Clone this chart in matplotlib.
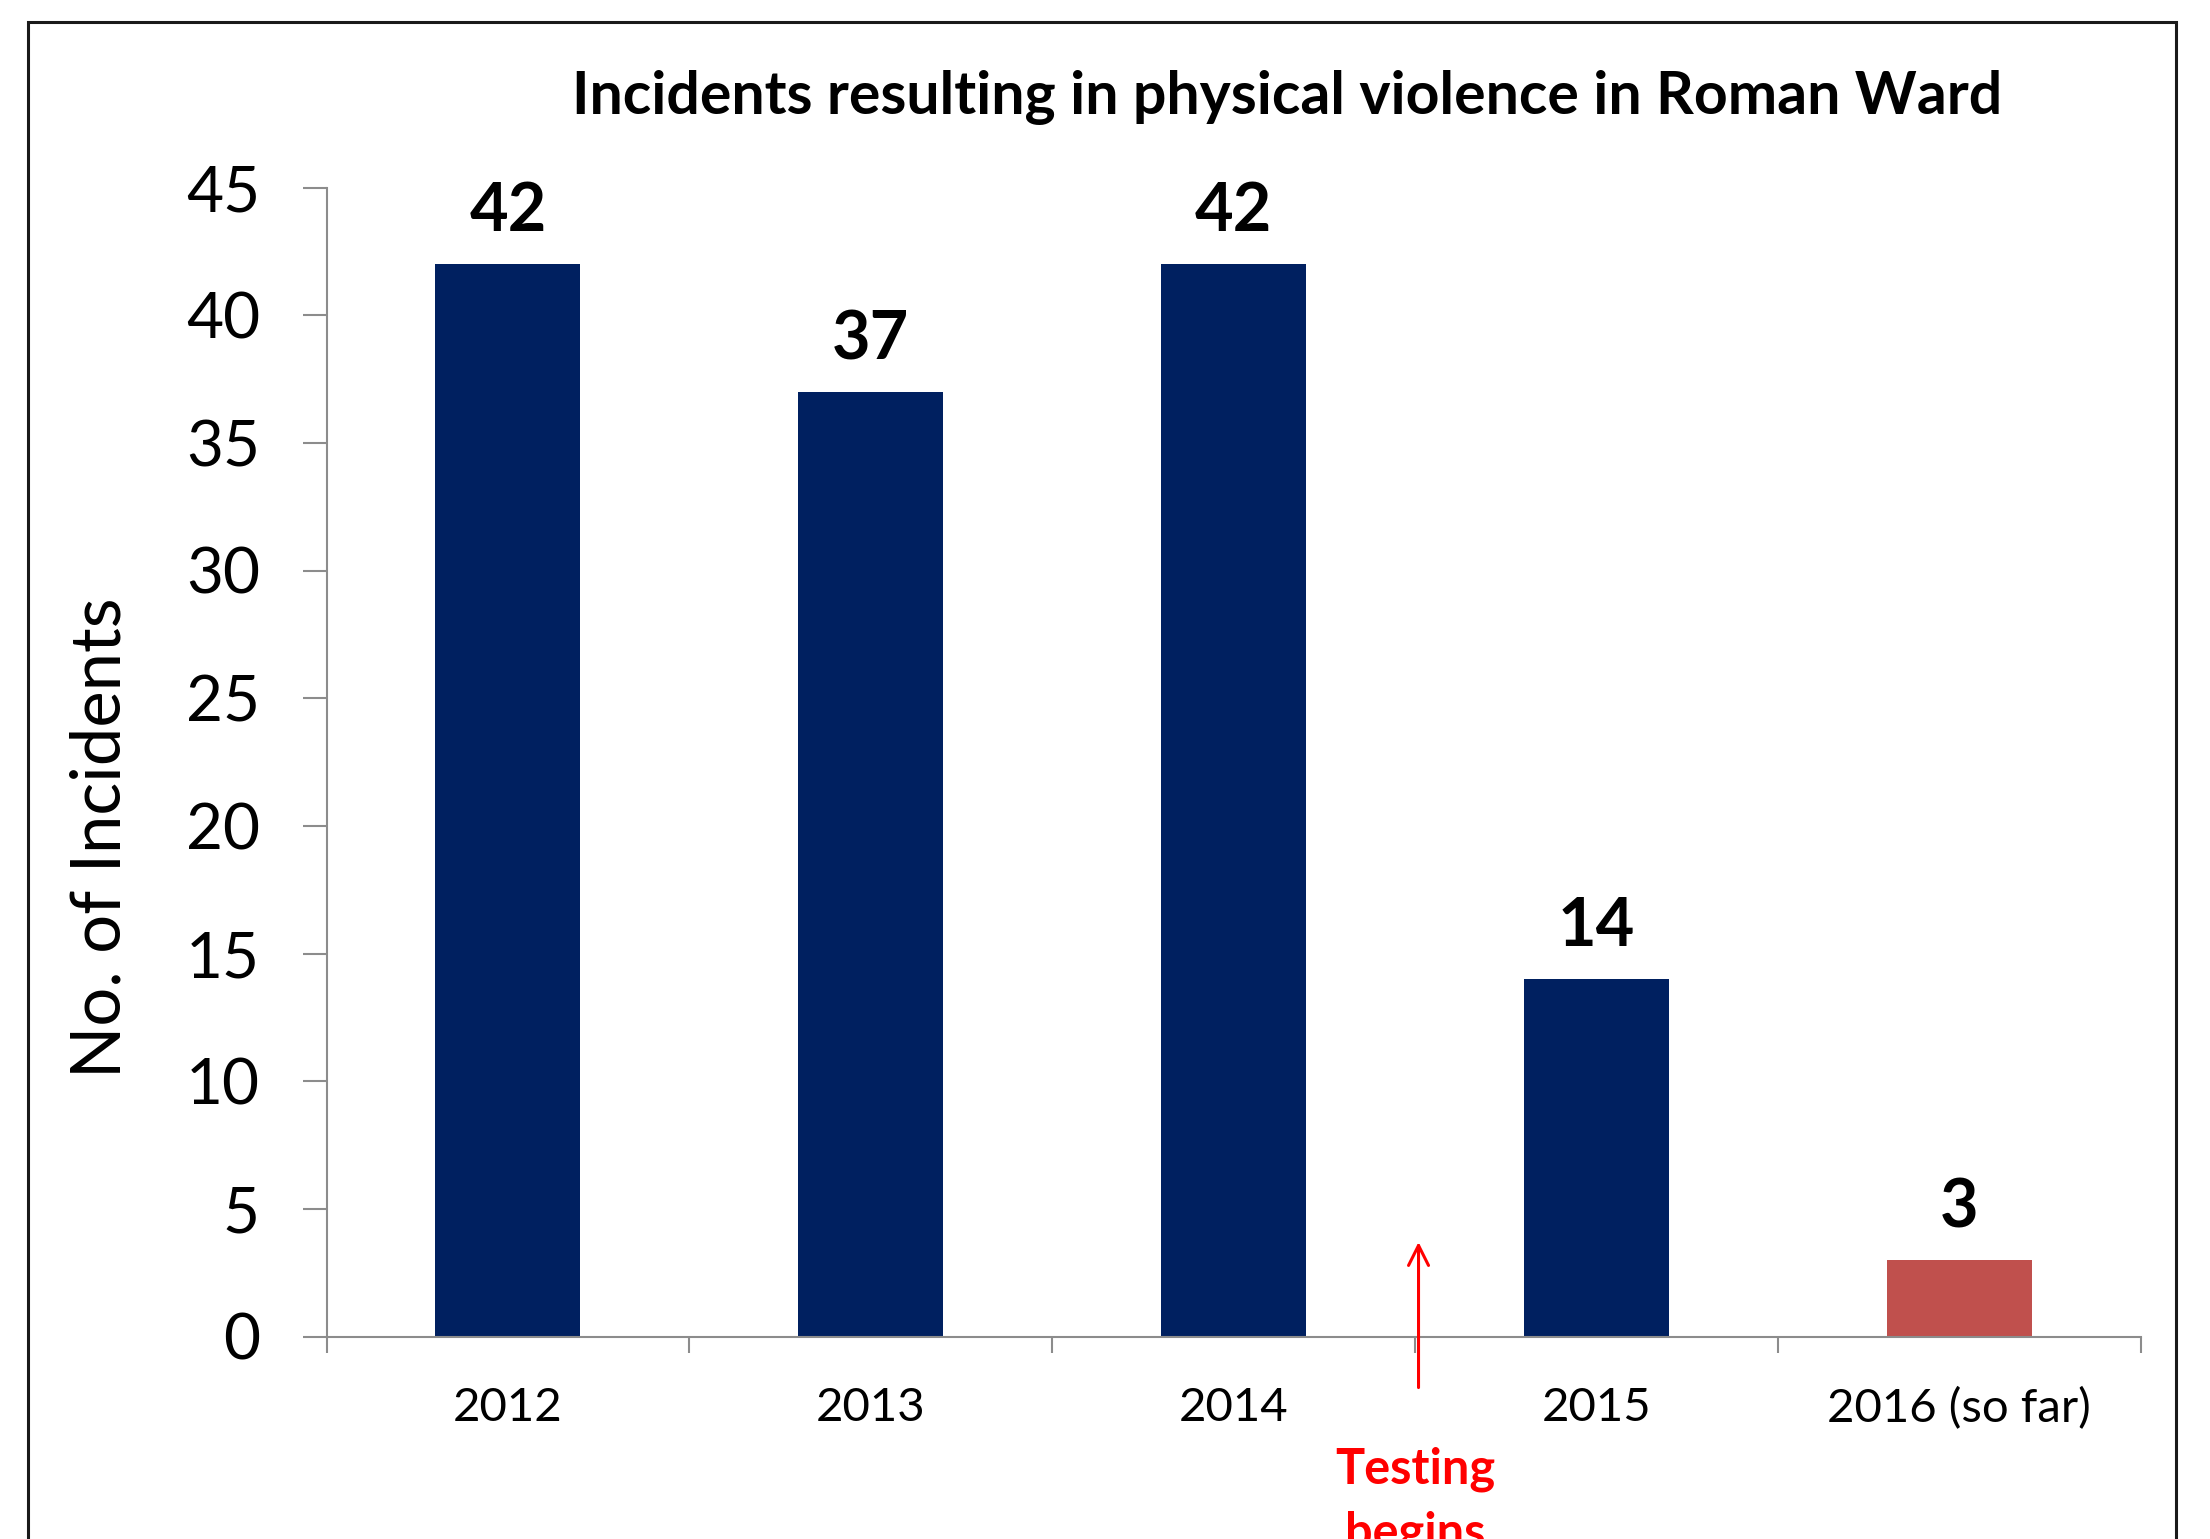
"""Incidents resulting in physical violence in Roman Ward - bar chart."""
import matplotlib
matplotlib.use("Agg")
import matplotlib.pyplot as plt
from matplotlib.patches import Rectangle
import numpy as np

plt.rcParams["font.family"] = ["Lato", "DejaVu Sans"]

YEARS = ["2012", "2013", "2014", "2015", "2016 (so far)"]
INCIDENTS = [42, 37, 42, 14, 3]
BAR_COLORS = ["#002060", "#002060", "#002060", "#002060", "#C0504D"]

TITLE = "Incidents resulting in physical violence in Roman Ward"
Y_LABEL = "No. of Incidents"
NOTE_LINES = ["Testing", "begins"]
NOTE_AT = 2.51          # between 2014 and 2015
ARROW_TIP, ARROW_TAIL = 3.7, -2.0

AXIS_GREY = "#8c8c8c"


def main() -> None:
    W, H, DPI = 2210, 1539, 100
    fig = plt.figure(figsize=(W / DPI, H / DPI), dpi=DPI)
    ax = fig.add_axes([326.5 / W, 1 - 1336.5 / H,
                       (2140.5 - 326.5) / W, (1336.5 - 187.5) / H])

    x = np.arange(len(YEARS))
    bars = ax.bar(x, INCIDENTS, width=0.4, color=BAR_COLORS, zorder=2)
    for b, v in zip(bars, INCIDENTS):
        ax.annotate(f"{v}", (b.get_x() + b.get_width() / 2, v),
                    xytext=(0, 23.5), textcoords="offset points",
                    ha="center", va="baseline", fontsize=48,
                    fontweight="bold", color="black")

    ax.set_xlim(-0.5, len(YEARS) - 0.5)
    ax.set_ylim(0, 45)
    ax.set_yticks(np.arange(0, 46, 5))
    ax.set_xticks(np.arange(len(YEARS) + 1) - 0.5, labels=[""] * (len(YEARS) + 1))
    ax.set_xticks(x, labels=YEARS, minor=True)

    for s in ("top", "right"):
        ax.spines[s].set_visible(False)
    for s in ("left", "bottom"):
        ax.spines[s].set_color(AXIS_GREY)
        ax.spines[s].set_linewidth(1.5)

    ax.tick_params(axis="y", length=17, width=1.5, color=AXIS_GREY,
                   pad=31, labelsize=46)
    ax.tick_params(axis="x", which="major", length=11.5, width=1.5,
                   color=AXIS_GREY)
    ax.tick_params(axis="x", which="minor", length=0, pad=36.5, labelsize=34)

    ax.set_ylabel(Y_LABEL, fontsize=49.5)
    ax.yaxis.set_label_coords((133 - 326.5) / (2140.5 - 326.5),
                              (1336.5 - 838) / (1336.5 - 187.5))

    # "Testing begins" marker
    ax.annotate("", xy=(NOTE_AT, ARROW_TIP), xytext=(NOTE_AT, ARROW_TAIL),
                arrowprops=dict(arrowstyle="->,head_length=0.4,head_width=0.2",
                                color="#FF0000", lw=2.2, mutation_scale=36,
                                shrinkA=0, shrinkB=0),
                annotation_clip=False)
    for line, y in zip(NOTE_LINES, [-5.76, -8.25]):
        ax.text(NOTE_AT - 0.01, y, line, ha="center", va="baseline",
                fontsize=35, fontweight="bold", color="#FF0000",
                clip_on=False)

    fig.text(1287 / W, 1 - 114 / H, TITLE, ha="center", va="baseline",
             fontsize=42.5, fontweight="bold")

    # outer frame (continues past the bottom edge)
    fig.patches.append(Rectangle((28 / W, -0.1), (2176 - 28) / W,
                                 1 - 22 / H + 0.1, transform=fig.transFigure,
                                 fill=False, edgecolor="#1a1a1a", lw=2.2))

    fig.savefig("out.png", dpi=DPI)


if __name__ == "__main__":
    main()
